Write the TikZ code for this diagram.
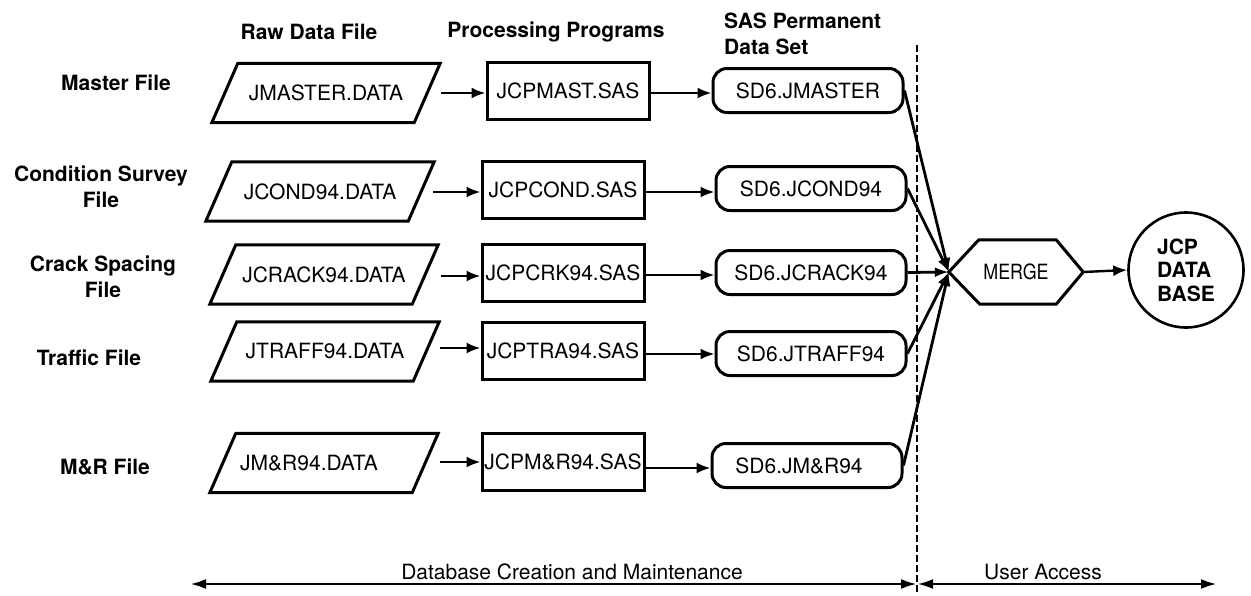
\documentclass[tikz,border=0pt]{standalone}
\usepackage{fontspec}
\setmainfont{TeX Gyre Heros}
\usetikzlibrary{arrows.meta,calc}
\begin{document}
\begin{tikzpicture}[x=1pt,y=-1pt,
  every node/.style={font=\fontsize{21}{26}\selectfont, inner sep=0pt},
  hdr/.style={font=\fontsize{21}{26}\selectfont\bfseries, align=center},
  rawbox/.style={minimum width=202pt, minimum height=59pt},
  procbox/.style={draw, line width=3pt, minimum width=162pt, minimum height=57pt},
  sdbox/.style={draw, line width=3pt, rounded corners=14pt, minimum width=190pt, minimum height=44pt},
  outl/.style={line width=3pt, line join=miter},
  arr/.style={line width=2.4pt, -{Latex[length=14pt,width=11pt]}},
  marr/.style={line width=2.8pt, -{Latex[length=14pt,width=10pt]}},
  spanarr/.style={line width=2.8pt, {Latex[length=16pt,width=10pt]}-{Latex[length=16pt,width=10pt]}}
]
\fill[white] (0,0) rectangle (1251,595);
\useasboundingbox (0,0) rectangle (1251,595);

% headers
\node[hdr] (h1) at (309,32) {Raw Data File};
\node[hdr] (h2) at (556,32) {Processing Programs};
\node[hdr, align=left, anchor=west] (h3) at (724,34) {SAS Permanent\\Data Set};

% row labels
\node[hdr] (l1) at (116,83) {Master File};
\node[hdr] (l2) at (101,187) {Condition Survey\\File};
\node[hdr] (l3) at (103,277) {Crack Spacing\\File};
\node[hdr] (l4) at (89,358) {Traffic File};
\node[hdr] (l5) at (105,467) {M\&R File};

% raw data files
\node[rawbox] (r1) at (326,93) {JMASTER.DATA};
\node[rawbox] (r2) at (320,191.5) {JCOND94.DATA};
\node[rawbox] (r3) at (324,274.5) {JCRACK94.DATA};
\node[rawbox] (r4) at (325,351.5) {JTRAFF94.DATA};
\node[rawbox] (r5) at (324,463) {\makebox[0pt]{\hspace*{-30pt}JM\&R94.DATA}};
\foreach \n in {r1,r2,r3,r4,r5}
  \draw[outl] ([xshift=13pt]\n.north west) -- ([xshift=13pt]\n.north east)
     -- ([xshift=-13pt]\n.south east) -- ([xshift=-13pt]\n.south west) -- cycle;

% processing programs
\node[procbox] (p1) at (568,91) {JCPMAST.SAS};
\node[procbox] (p2) at (563,190) {JCPCOND.SAS};
\node[procbox] (p3) at (563,273) {JCPCRK94.SAS};
\node[procbox] (p4) at (563,350.5) {JCPTRA94.SAS};
\node[procbox] (p5) at (563,461.5) {\makebox[0pt]{JCPM\&R94.SAS}};

% SAS data sets
\node[sdbox] (s1) at (808,90.5) {SD6.JMASTER};
\node[sdbox] (s2) at (811,188.5) {SD6.JCOND94};
\node[sdbox] (s3) at (811,272.5) {SD6.JCRACK94};
\node[sdbox] (s4) at (811,353.5) {SD6.JTRAFF94};
\node[sdbox] (s5) at (807,465.5) {\makebox[0pt]{\hspace*{-16pt}SD6.JM\&R94}};

% arrows raw -> proc -> sd
\draw[arr, shorten <=14pt] (r1.east |- 0,93) -- (p1.west |- 0,93);
\draw[arr, shorten <=12pt] (r2.east |- 0,192) -- (p2.west |- 0,192);
\draw[arr, shorten <=16pt] (r3.east |- 0,276) -- (p3.west |- 0,276);
\draw[arr, shorten <=14pt] (r4.east |- 0,348) -- (p4.west |- 0,348);
\draw[arr, shorten <=15pt] (r5.east |- 0,462) -- (p5.west |- 0,462);

\draw[arr] (p1.east |- 0,93) -- (s1.west |- 0,93);
\draw[arr] (p2.east |- 0,192) -- (s2.west |- 0,192);
\draw[arr] (p3.east |- 0,275) -- (s3.west |- 0,275);
\draw[arr] (p4.east |- 0,354) -- (s4.west |- 0,354);
\draw[arr] (p5.east |- 0,468) -- (s5.west |- 0,468);

% merge
\node[minimum width=134pt, minimum height=64pt] (merge) at (1016,272) {\scalebox{0.85}[1]{MERGE}};
\draw[outl] (merge.west) -- ([xshift=30pt]merge.north west) -- ([xshift=-27pt]merge.north east)
   -- (merge.east) -- ([xshift=-27pt]merge.south east) -- ([xshift=31pt]merge.south west) -- cycle;

\foreach \n in {s1,s2,s3,s4,s5}
  \draw[marr] (\n.east) -- (merge.west);

% database
\node[draw, circle, line width=2.6pt, minimum size=115pt, align=left,
      font=\fontsize{21}{23.5}\selectfont\bfseries] (db) at (1186,270) {JCP\\DATA\\BASE};
\draw[arr] (merge.east) -- (db.west);

% divider
\coordinate (dtop) at (917,45);
\coordinate (dbot) at (917,595);
\draw[line width=2pt, dash pattern=on 7pt off 3pt] (dtop) -- (dbot);

% bottom spans
\coordinate (bl) at (190,584);
\coordinate (bm) at (917,584);
\coordinate (br) at (1217,584);
\draw[spanarr] (bl) -- (bm);
\draw[spanarr] (bm) -- (br);
\node (dbcm) at (572,572) {Database Creation and Maintenance};
\node (ua) at (1043,572) {User Access};
\end{tikzpicture}
\end{document}
